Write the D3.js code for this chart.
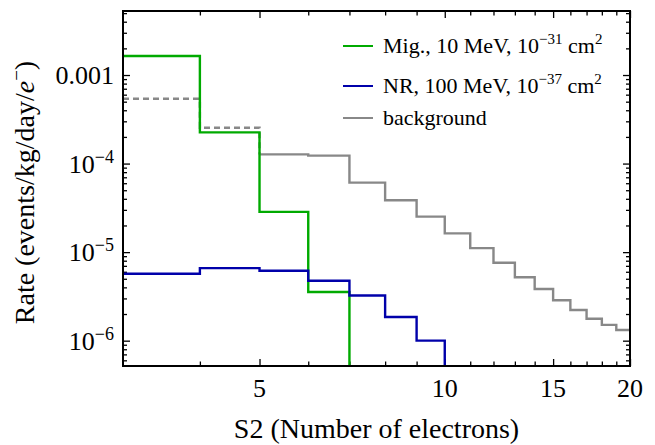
<!DOCTYPE html>
<html><head><meta charset="utf-8">
<script src="https://cdn.jsdelivr.net/npm/d3@7"></script>
<style>body{margin:0;background:#fff}svg{display:block}</style>
</head><body><svg id="c" width="655" height="445"></svg>
<script>
// ---- data ----
const migEdges   = [3, 4, 5, 6, 7];
const migValues  = [1.64e-3, 2.25e-4, 2.85e-5, 3.54e-6, 0];
const nrEdges    = [3, 4, 5, 6, 7, 8, 9, 10];
const nrValues   = [5.7e-6, 6.6e-6, 6.17e-6, 4.75e-6, 3.24e-6, 1.85e-6, 1.0e-6, 0];
const bgDashEdges  = [3, 4, 5];
const bgDashValues = [5.4e-4, 2.54e-4, 1.27e-4];
const bgEdges  = [5, 6, 7, 8, 9, 10, 11, 12, 13, 14, 15, 16, 17, 18, 19, 20];
const bgValues = [1.27e-4, 1.23e-4, 6.1e-5, 3.86e-5, 2.52e-5, 1.63e-5, 1.11e-5, 7.6e-6,
                  5.2e-6, 3.84e-6, 2.86e-6, 2.22e-6, 1.77e-6, 1.51e-6, 1.32e-6, 1.32e-6];
const xMajorTicks = [5, 10, 15, 20];
const xMinorTicks = [4, 6, 7, 8, 9, 11, 12, 13, 14, 16, 17, 18, 19];
const yMajorTicks = [1e-3, 1e-4, 1e-5, 1e-6];
const yLabelBase  = ["0.001", "10", "10", "10"];
const yLabelExp   = ["", "\u22124", "\u22125", "\u22126"];
const legendNames = ["Mig., 10 MeV, 10", "NR, 100 MeV, 10", "background"];
const legendExp   = ["\u221231", "\u221237", ""];
const legendColors = ["#00aa00", "#0000aa", "#888888"];

// ---- layout ----
const L = 123, R = 630, T = 11, B = 366;
const svg = d3.select("#c");
const font = "'Liberation Serif','Times New Roman',serif";
const x = d3.scaleLog().domain([3, 20]).range([L, R]);
const y = d3.scaleLog().domain([Math.pow(10, -6.286), Math.pow(10, -2.277)]).range([B, T]).clamp(true);

svg.append("defs").append("clipPath").attr("id", "clip")
  .append("rect").attr("x", L).attr("y", T).attr("width", R - L).attr("height", B - T);

// minor y ticks
const yMinor = [];
for (let e = -7; e <= -2; e++) for (let m = 2; m <= 9; m++) {
  const v = m * Math.pow(10, e);
  if (v >= y.domain()[0] && v <= y.domain()[1]) yMinor.push(v);
}

function axisG(axis, tx, ty) {
  const g = svg.append("g").attr("transform", `translate(${tx},${ty})`).call(axis);
  g.select(".domain").remove();
  g.selectAll("line").attr("stroke", "#000").attr("stroke-width", 1.3);
  g.selectAll("text").remove();
  return g;
}
// inward ticks on all sides
axisG(d3.axisBottom(x).tickValues(xMajorTicks).tickSize(-7), 0, B);
axisG(d3.axisBottom(x).tickValues(xMinorTicks).tickSize(-4.5), 0, B);
axisG(d3.axisTop(x).tickValues(xMajorTicks).tickSize(-7), 0, T);
axisG(d3.axisTop(x).tickValues(xMinorTicks).tickSize(-4.5), 0, T);
axisG(d3.axisLeft(y).tickValues(yMajorTicks).tickSize(-7), L, 0);
axisG(d3.axisLeft(y).tickValues(yMinor).tickSize(-4), L, 0);
axisG(d3.axisRight(y).tickValues(yMajorTicks).tickSize(-7), R, 0);
axisG(d3.axisRight(y).tickValues(yMinor).tickSize(-4), R, 0);

// data lines
const plot = svg.append("g").attr("clip-path", "url(#clip)");
const step = d3.line().x(d => x(d[0])).y(d => y(d[1])).curve(d3.curveStepAfter);
function series(edges, vals, color, dash) {
  plot.append("path").datum(d3.zip(edges, vals))
    .attr("d", step).attr("fill", "none").attr("stroke", color)
    .attr("stroke-width", 2.4).attr("stroke-dasharray", dash || null);
}
series(bgDashEdges, bgDashValues, "#888888", "6,4");
series(bgEdges, bgValues, "#888888");
series(migEdges, migValues, "#00aa00");
series(nrEdges, nrValues, "#0000aa");

// frame
svg.append("rect").attr("x", L).attr("y", T).attr("width", R - L).attr("height", B - T)
  .attr("fill", "none").attr("stroke", "#000").attr("stroke-width", 2);

// tick labels
svg.append("g").selectAll("text").data(xMajorTicks).join("text")
  .attr("x", d => x(d)).attr("y", B + 31).attr("text-anchor", "middle")
  .attr("font-family", font).attr("font-size", 26).text(d => d);

const yl = svg.append("g").selectAll("text").data(yMajorTicks).join("text")
  .attr("x", L - 9).attr("y", d => y(d) + 9).attr("text-anchor", "end")
  .attr("font-family", font).attr("font-size", 26);
yl.each(function (d, i) {
  const t = d3.select(this);
  t.append("tspan").text(yLabelBase[i]);
  if (yLabelExp[i]) t.append("tspan").attr("dy", -10).attr("font-size", 18).text(yLabelExp[i]);
});

// axis titles
svg.append("text").attr("x", (L + R) / 2).attr("y", 438).attr("text-anchor", "middle")
  .attr("font-family", font).attr("font-size", 28).text("S2 (Number of electrons)");
const yt = svg.append("text").attr("transform", `translate(34,${(T + B) / 2 + 4}) rotate(-90)`)
  .attr("text-anchor", "middle").attr("font-family", font).attr("font-size", 28);
yt.append("tspan").text("Rate (events/kg/day/");
yt.append("tspan").attr("font-style", "italic").text("e");
yt.append("tspan").attr("dy", -11).attr("font-size", 19).text("\u2212");
yt.append("tspan").attr("dy", 11).text(")");

// legend
const legY = [46, 86, 118];
const lg = svg.append("g");
legendNames.forEach((name, i) => {
  lg.append("line").attr("x1", 343).attr("x2", 373).attr("y1", legY[i]).attr("y2", legY[i])
    .attr("stroke", legendColors[i]).attr("stroke-width", 2);
  const t = lg.append("text").attr("x", 383).attr("y", legY[i] + 7)
    .attr("font-family", font).attr("font-size", 22);
  t.append("tspan").text(name);
  if (legendExp[i]) {
    t.append("tspan").attr("dy", -9).attr("font-size", 15).text(legendExp[i]);
    t.append("tspan").attr("dy", 9).text(" cm");
    t.append("tspan").attr("dy", -9).attr("font-size", 15).text("2");
  }
});
</script></body></html>
